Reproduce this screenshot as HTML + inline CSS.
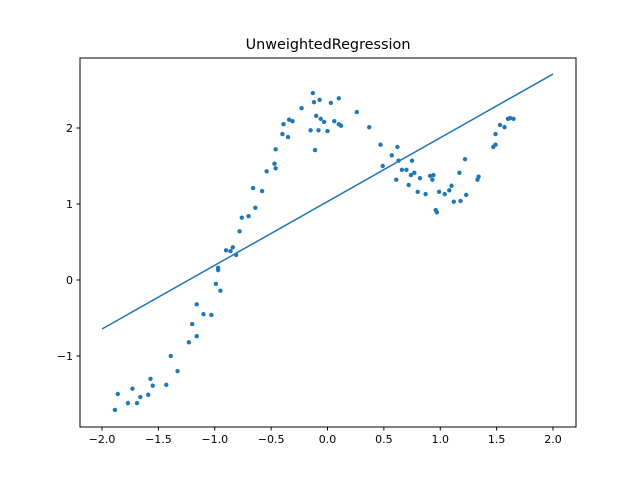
<!DOCTYPE html>
<html><head><meta charset="utf-8"><style>
body{margin:0;background:#fff;font-family:"Liberation Sans","DejaVu Sans",sans-serif;}
svg text{font-family:"DejaVu Sans","Liberation Sans",sans-serif;}
</style></head><body>
<svg id="chart" width="640" height="480" viewBox="0 0 640 480" xmlns="http://www.w3.org/2000/svg">
<rect width="640" height="480" fill="#fff"/>
<text x="328" y="49" text-anchor="middle" font-size="14.4">UnweightedRegression</text>
<g id="plot"></g>
<rect x="80" y="58" width="496" height="369" fill="none" stroke="#000" stroke-width="1"/>
</svg>
<script>
const xTicks=[-2.0,-1.5,-1.0,-0.5,0.0,0.5,1.0,1.5,2.0];
const xTickLabels=["−2.0","−1.5","−1.0","−0.5","0.0","0.5","1.0","1.5","2.0"];
const yTicks=[-1,0,1,2];
const yTickLabels=["−1","0","1","2"];
const lineX=[-2.0,2.0];
const lineY=[-0.645,2.71];
const pointsX=[-1.885,-1.86,-1.77,-1.73,-1.69,-1.66,-1.59,-1.57,-1.55,-1.43,-1.39,-1.33,-1.23,-1.20,-1.16,-1.16,-1.10,-1.03,-0.99,-0.97,-0.97,-0.95,-0.90,-0.86,-0.84,-0.81,-0.78,-0.76,-0.70,-0.66,-0.64,-0.58,-0.54,-0.47,-0.46,-0.46,-0.40,-0.39,-0.35,-0.34,-0.31,-0.23,-0.15,-0.13,-0.12,-0.11,-0.10,-0.08,-0.07,-0.06,-0.03,0.00,0.03,0.06,0.10,0.10,0.12,0.26,0.37,0.47,0.49,0.57,0.61,0.62,0.63,0.66,0.70,0.72,0.74,0.75,0.77,0.80,0.82,0.87,0.91,0.93,0.94,0.96,0.97,0.99,1.04,1.08,1.10,1.12,1.17,1.18,1.22,1.23,1.33,1.34,1.47,1.49,1.49,1.53,1.57,1.60,1.62,1.65];
const pointsY=[-1.71,-1.50,-1.62,-1.43,-1.62,-1.54,-1.51,-1.30,-1.39,-1.38,-1.00,-1.20,-0.82,-0.58,-0.32,-0.74,-0.45,-0.46,-0.05,0.13,0.16,-0.14,0.39,0.38,0.43,0.33,0.64,0.82,0.84,1.21,0.95,1.17,1.43,1.53,1.72,1.47,1.92,2.05,1.88,2.11,2.09,2.26,1.97,2.46,2.34,1.71,2.16,1.97,2.37,2.12,2.08,1.96,2.33,2.09,2.39,2.05,2.03,2.21,2.01,1.78,1.50,1.64,1.32,1.75,1.57,1.45,1.45,1.25,1.38,1.57,1.41,1.16,1.34,1.13,1.37,1.32,1.38,0.92,0.89,1.16,1.13,1.18,1.24,1.03,1.41,1.04,1.59,1.12,1.32,1.36,1.75,1.78,1.92,2.04,2.01,2.12,2.13,2.12];
const xs=v=>327.5+v*112.75;
const ys=v=>280-v*76;
const NS="http://www.w3.org/2000/svg";
const g=document.getElementById('plot');
function mk(t,a){const e=document.createElementNS(NS,t);for(const k in a)e.setAttribute(k,a[k]);g.appendChild(e);return e;}
xTicks.forEach((v,i)=>{
  const t=mk('line',{x1:xs(v),x2:xs(v),y1:427,y2:430.5,stroke:'#000'});
  
  
  const l=mk('text',{x:xs(v),y:443,'text-anchor':'middle','font-size':'11'});
  l.textContent=xTickLabels[i];
  
  
});
yTicks.forEach((v,i)=>{
  const t=mk('line',{x1:76.5,x2:80,y1:ys(v),y2:ys(v),stroke:'#000'});
  
  
  const l=mk('text',{x:73,y:ys(v)+4,'text-anchor':'end','font-size':'11'});
  l.textContent=yTickLabels[i];
  
  
});
pointsX.forEach((v,i)=>{
  const c=mk('circle',{cx:xs(v),cy:ys(pointsY[i]),r:2.2,fill:'#1f77b4'});
  
  
});
const ln=mk('line',{x1:xs(lineX[0]),y1:ys(lineY[0]),x2:xs(lineX[1]),y2:ys(lineY[1]),stroke:'#1f77b4','stroke-width':1.5});


</script>
</body></html>
